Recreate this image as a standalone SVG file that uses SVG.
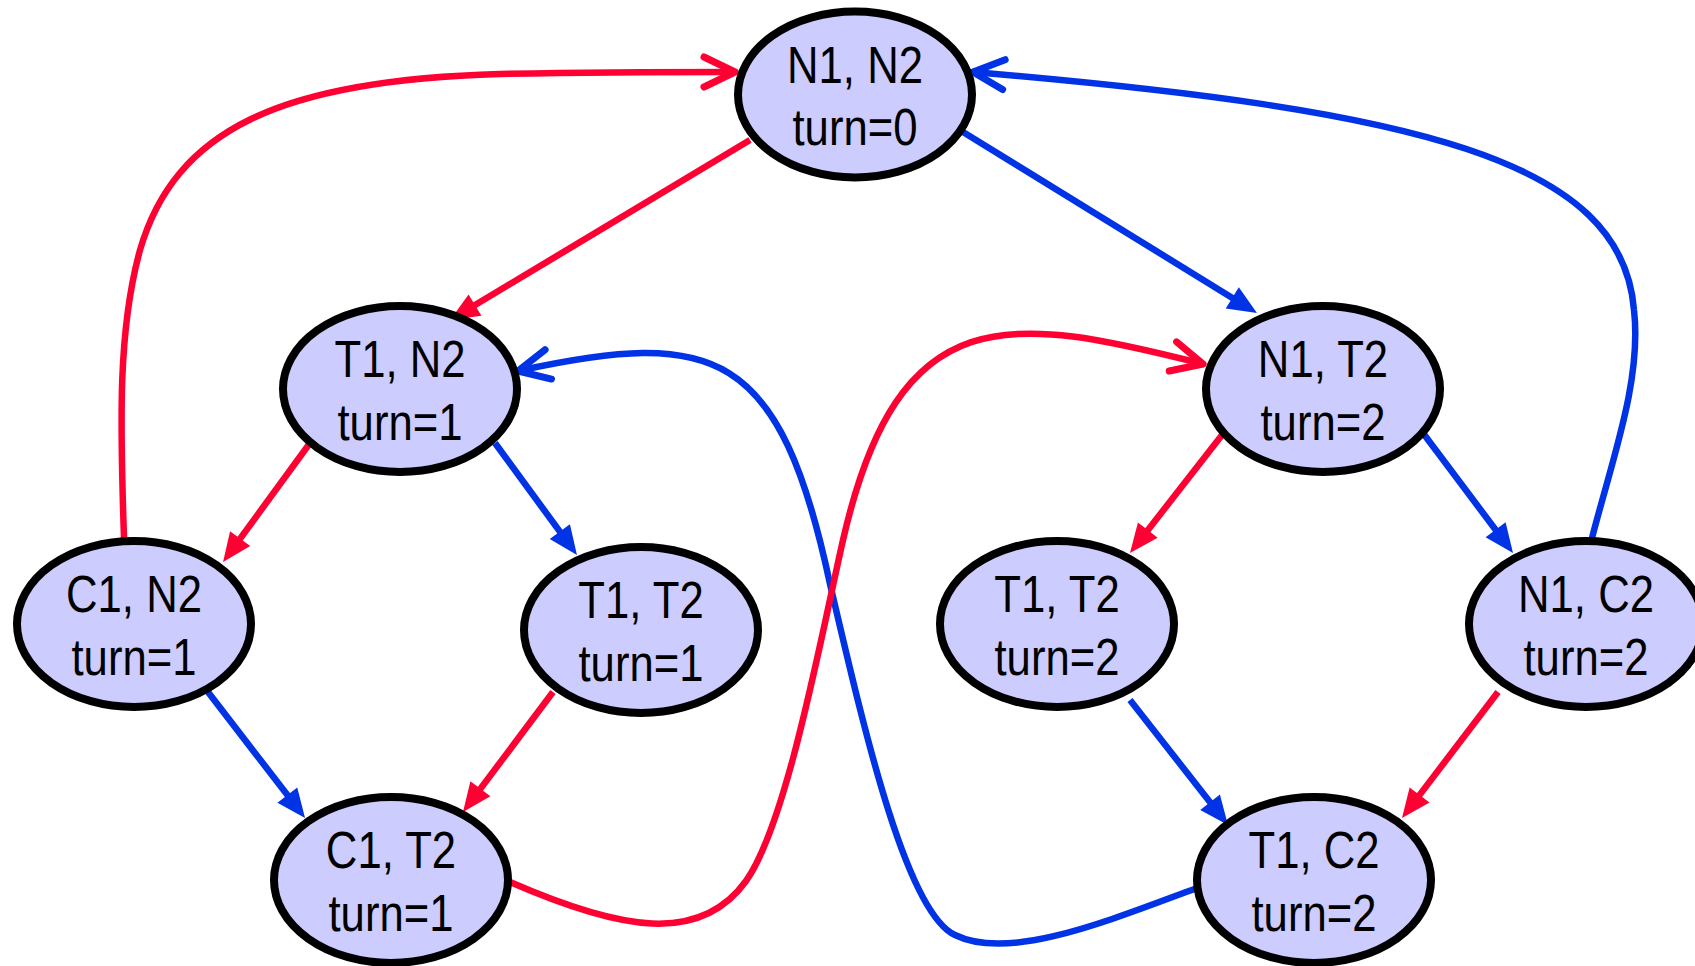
<svg xmlns="http://www.w3.org/2000/svg" width="1695" height="966" viewBox="0 0 1695 966">
<style>
.node ellipse{fill:#CCCCFF;stroke:#000;stroke-width:8}
.node text{font-family:"Liberation Sans",Arial,sans-serif;font-size:52px;fill:#000;text-anchor:middle}
.red{stroke:#FF0033;fill:none;stroke-width:6.5}
.blue{stroke:#0033E6;fill:none;stroke-width:6.5}
.curve{stroke-linecap:round}
</style>
<defs>
<marker id="triR" markerUnits="userSpaceOnUse" orient="auto" refX="0" refY="0" markerWidth="40" markerHeight="30" viewBox="-14 -15 30 30" overflow="visible"><path d="M15,0 L-14,-12.5 L-14,12.5 Z" fill="#FF0033"/></marker>
<marker id="triB" markerUnits="userSpaceOnUse" orient="auto" refX="0" refY="0" markerWidth="40" markerHeight="30" viewBox="-14 -15 30 30" overflow="visible"><path d="M15,0 L-14,-12.5 L-14,12.5 Z" fill="#0033E6"/></marker>
<marker id="chvR" markerUnits="userSpaceOnUse" orient="auto" refX="0" refY="0" markerWidth="40" markerHeight="40" viewBox="-35 -20 40 40" overflow="visible"><path d="M-31,-15 L0,0 L-31,15" fill="none" stroke="#FF0033" stroke-width="7" stroke-linecap="round" stroke-linejoin="round"/></marker>
<marker id="chvB" markerUnits="userSpaceOnUse" orient="auto" refX="0" refY="0" markerWidth="40" markerHeight="40" viewBox="-35 -20 40 40" overflow="visible"><path d="M-31,-15 L0,0 L-31,15" fill="none" stroke="#0033E6" stroke-width="7" stroke-linecap="round" stroke-linejoin="round"/></marker>
</defs>
<rect width="1695" height="966" fill="#fff"/>
<g id="connectors">
<path class="red" d="M750,140 L463,312.3" marker-end="url(#triR)"/>
<path class="blue" d="M963,132 L1244.2,305.2" marker-end="url(#triB)"/>
<path class="red" d="M310,443 L231.9,549.9" marker-end="url(#triR)"/>
<path class="blue" d="M495,443 L568.1,542.9" marker-end="url(#triB)"/>
<path class="blue" d="M208,692 L295.9,806.1" marker-end="url(#triB)"/>
<path class="red" d="M553,692 L472,800" marker-end="url(#triR)"/>
<path class="red" d="M1222,435 L1139.2,541.2" marker-end="url(#triR)"/>
<path class="blue" d="M1423,433 L1504,541" marker-end="url(#triB)"/>
<path class="blue" d="M1130,700 L1218.7,813.2" marker-end="url(#triB)"/>
<path class="red" d="M1498,692 L1411.1,806.1" marker-end="url(#triR)"/>
<path class="red curve" d="M124,538 C120,420 118,330 140,250 C175,130 280,80 500,74 C600,72 680,72 735,72" marker-end="url(#chvR)"/>
<path class="blue curve" d="M1592,538 C1612,460 1642,380 1634,310 C1622,160 1420,110 973,72" marker-end="url(#chvB)"/>
<path class="blue curve" d="M1197,888 C1110,920 1010,962 955,935 C905,912 862,720 830,584 C780,349 715,328 518,371" marker-end="url(#chvB)"/>
<path class="red curve" d="M510,882 C620,930 700,945 746,881 C787,823 821,637 843,540 C899,296 1009,315 1203,364" marker-end="url(#chvR)"/>
</g>
<g id="n-N1N2" class="node" transform="translate(855,94.5)"><ellipse rx="117" ry="83"/><text y="-12" transform="scale(0.84,1)">N1, N2</text><text y="51" transform="scale(0.84,1)">turn=0</text></g>
<g id="n-T1N2" class="node" transform="translate(400,389)"><ellipse rx="117" ry="83"/><text y="-12" transform="scale(0.84,1)">T1, N2</text><text y="51" transform="scale(0.84,1)">turn=1</text></g>
<g id="n-C1N2" class="node" transform="translate(134,624)"><ellipse rx="117" ry="83"/><text y="-12" transform="scale(0.84,1)">C1, N2</text><text y="51" transform="scale(0.84,1)">turn=1</text></g>
<g id="n-T1T2-1" class="node" transform="translate(641,630)"><ellipse rx="117" ry="83"/><text y="-12" transform="scale(0.84,1)">T1, T2</text><text y="51" transform="scale(0.84,1)">turn=1</text></g>
<g id="n-C1T2" class="node" transform="translate(391,880)"><ellipse rx="117" ry="83"/><text y="-12" transform="scale(0.84,1)">C1, T2</text><text y="51" transform="scale(0.84,1)">turn=1</text></g>
<g id="n-N1T2" class="node" transform="translate(1323,389)"><ellipse rx="117" ry="83"/><text y="-12" transform="scale(0.84,1)">N1, T2</text><text y="51" transform="scale(0.84,1)">turn=2</text></g>
<g id="n-T1T2-2" class="node" transform="translate(1057,624)"><ellipse rx="117" ry="83"/><text y="-12" transform="scale(0.84,1)">T1, T2</text><text y="51" transform="scale(0.84,1)">turn=2</text></g>
<g id="n-N1C2" class="node" transform="translate(1586,624)"><ellipse rx="117" ry="83"/><text y="-12" transform="scale(0.84,1)">N1, C2</text><text y="51" transform="scale(0.84,1)">turn=2</text></g>
<g id="n-T1C2" class="node" transform="translate(1314,880)"><ellipse rx="117" ry="83"/><text y="-12" transform="scale(0.84,1)">T1, C2</text><text y="51" transform="scale(0.84,1)">turn=2</text></g>
</svg>
